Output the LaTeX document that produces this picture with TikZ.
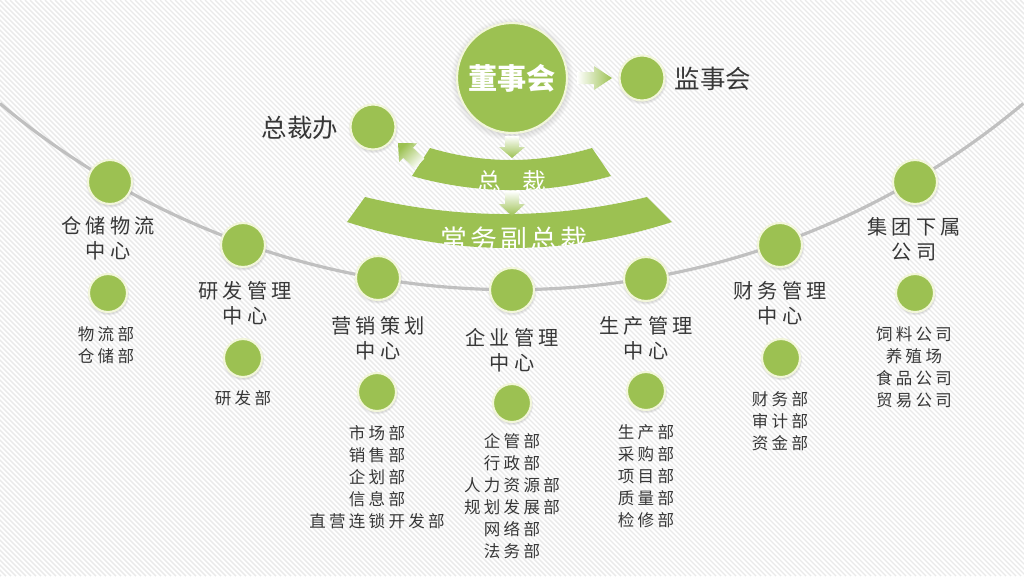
\documentclass[tikz,border=0pt]{standalone}
\usepackage{fontspec}
\newfontfamily\cjk{Noto Sans CJK SC}
\newfontfamily\cjkls[LetterSpace=20]{Noto Sans CJK SC}
\newfontfamily\cjklss[LetterSpace=12]{Noto Sans CJK SC}
\usetikzlibrary{shadows}
\definecolor{leaf}{RGB}{156,193,82}
\definecolor{rim}{RGB}{242,246,218}
\definecolor{ink}{RGB}{55,55,55}
\definecolor{arcgray}{RGB}{192,192,192}
\definecolor{stripe}{RGB}{234,234,234}
\begin{document}
\begin{tikzpicture}[x=0.02cm,y=-0.02cm,
  dot/.style={circle, fill=leaf, draw=rim, line width=1.2pt, inner sep=0pt,
    circular drop shadow={shadow xshift=0pt, shadow yshift=-0.6pt, shadow scale=1.12, opacity=0.3}},
  mainnode/.style={dot, minimum size=0.88cm},
  subnode/.style={dot, minimum size=0.76cm},
  sidenode/.style={dot, minimum size=0.9cm},
  headtext/.style={align=center, text=ink, font=\cjkls\fontsize{11.5}{14.2}\selectfont, inner sep=0pt},
  subtext/.style={align=center, text=ink, font=\cjkls\fontsize{9.4}{12.6}\selectfont, inner sep=0pt},
  sidetext/.style={text=ink, font=\cjk\fontsize{14.5}{16}\selectfont, inner sep=0pt},
  bandtext/.style={text=white, inner sep=0pt},
]
\useasboundingbox (0,0) rectangle (1024,576);
% background
\fill[white] (0,0) rectangle (1024,576);
\begin{scope}
  \clip (0,0) rectangle (1024,576);
  \foreach \i in {-600,-595,...,1030} \draw[stripe, line width=0.8pt] (\i,0) -- (\i+576,576);
\end{scope}

% big arc
\draw[arcgray, line width=1.8pt] (0,103.5) arc[start angle=130, end angle=50, radius=796];

% bands
\fill[leaf] (430,148) .. controls (484,164) and (538,164) .. (592,148) -- (611,176)
  .. controls (545,194.7) and (478,194.7) .. (412,176) -- cycle;
\begin{scope}
  \clip (430,148) .. controls (484,164) and (538,164) .. (592,148) -- (611,176)
    .. controls (545,194.7) and (478,194.7) .. (412,176) -- cycle;
  \node[bandtext, font=\cjk\fontsize{13.5}{15}\selectfont] (zongcai) at (512,181) {总\hspace{12pt}裁};
\end{scope}
\fill[leaf] (365,197) .. controls (459,219.7) and (553,219.7) .. (647,197) -- (672,222)
  .. controls (564,256.7) and (456,256.7) .. (347,222) -- cycle;
\begin{scope}
  \clip (365,197) .. controls (459,219.7) and (553,219.7) .. (647,197) -- (672,222)
    .. controls (564,256.7) and (456,256.7) .. (347,222) -- cycle;
  \node[bandtext, font=\cjklss\fontsize{15.3}{17}\selectfont] (changwu) at (514,239) {常务副总裁};
\end{scope}

% top nodes
\node[dot, minimum size=2.2cm, text=white, font=\cjk\bfseries\fontsize{16.6}{18}\selectfont] (dongshi) at (512,78) {董事会};
\node[sidenode] (jianshi) at (642,78) {};
\node[sidetext] (jianshiT) at (713,79) {监事会};
\node[sidenode] (zongban) at (373,127) {};
\node[sidetext] (zongbanT) at (300,128) {总裁办};

% arrows
\shade[left color=white, right color=leaf] (577,72) -- (594,72) -- (594,66) -- (612,78) -- (594,90) -- (594,84) -- (577,84) -- cycle;
\shade[top color=white, bottom color=leaf] (505,136) -- (519,136) -- (519,147) -- (525,147) -- (512,158) -- (499,147) -- (505,147) -- cycle;
\shade[top color=white, bottom color=leaf] (505,191) -- (519,191) -- (519,204) -- (525,204) -- (512,216) -- (499,204) -- (505,204) -- cycle;
\shade[top color=leaf, bottom color=white, shading angle=45] (424.4,158.7) -- (412.9,147.7) -- (417.1,143.3) -- (398,143) -- (399.1,162.1) -- (403.3,157.7) -- (414.8,168.7) -- cycle;

% main nodes on arc
\node[mainnode] (c1) at (110,182) {};
\node[mainnode] (c2) at (243,245) {};
\node[mainnode] (c3) at (378,278) {};
\node[mainnode] (c4) at (512,290) {};
\node[mainnode] (c5) at (646,279) {};
\node[mainnode] (c6) at (780,245) {};
\node[mainnode] (c7) at (915,182) {};

\node[headtext] (h1) at (108,238) {仓储物流\\中心};
\node[headtext] (h2) at (245,303) {研发管理\\中心};
\node[headtext] (h3) at (378,338) {营销策划\\中心};
\node[headtext] (h4) at (512,350) {企业管理\\中心};
\node[headtext] (h5) at (646,338) {生产管理\\中心};
\node[headtext] (h6) at (780,303) {财务管理\\中心};
\node[headtext] (h7) at (914,239) {集团下属\\公司};

% sub nodes
\node[subnode] (s1) at (108,293) {};
\node[subnode] (s2) at (243,358) {};
\node[subnode] (s3) at (377,392) {};
\node[subnode] (s4) at (512,403) {};
\node[subnode] (s5) at (646,391) {};
\node[subnode] (s6) at (781,358) {};
\node[subnode] (s7) at (915,293) {};

\node[subtext] (t1) at (106,345) {物流部\\仓储部};
\node[subtext] (t2) at (243,398) {研发部};
\node[subtext] (t3) at (377,477) {市场部\\销售部\\企划部\\信息部\\直营连锁开发部};
\node[subtext] (t4) at (512,496) {企管部\\行政部\\人力资源部\\规划发展部\\网络部\\法务部};
\node[subtext] (t5) at (646,476) {生产部\\采购部\\项目部\\质量部\\检修部};
\node[subtext] (t6) at (780,421) {财务部\\审计部\\资金部};
\node[subtext] (t7) at (914,367) {饲料公司\\养殖场\\食品公司\\贸易公司};
\end{tikzpicture}
\end{document}
